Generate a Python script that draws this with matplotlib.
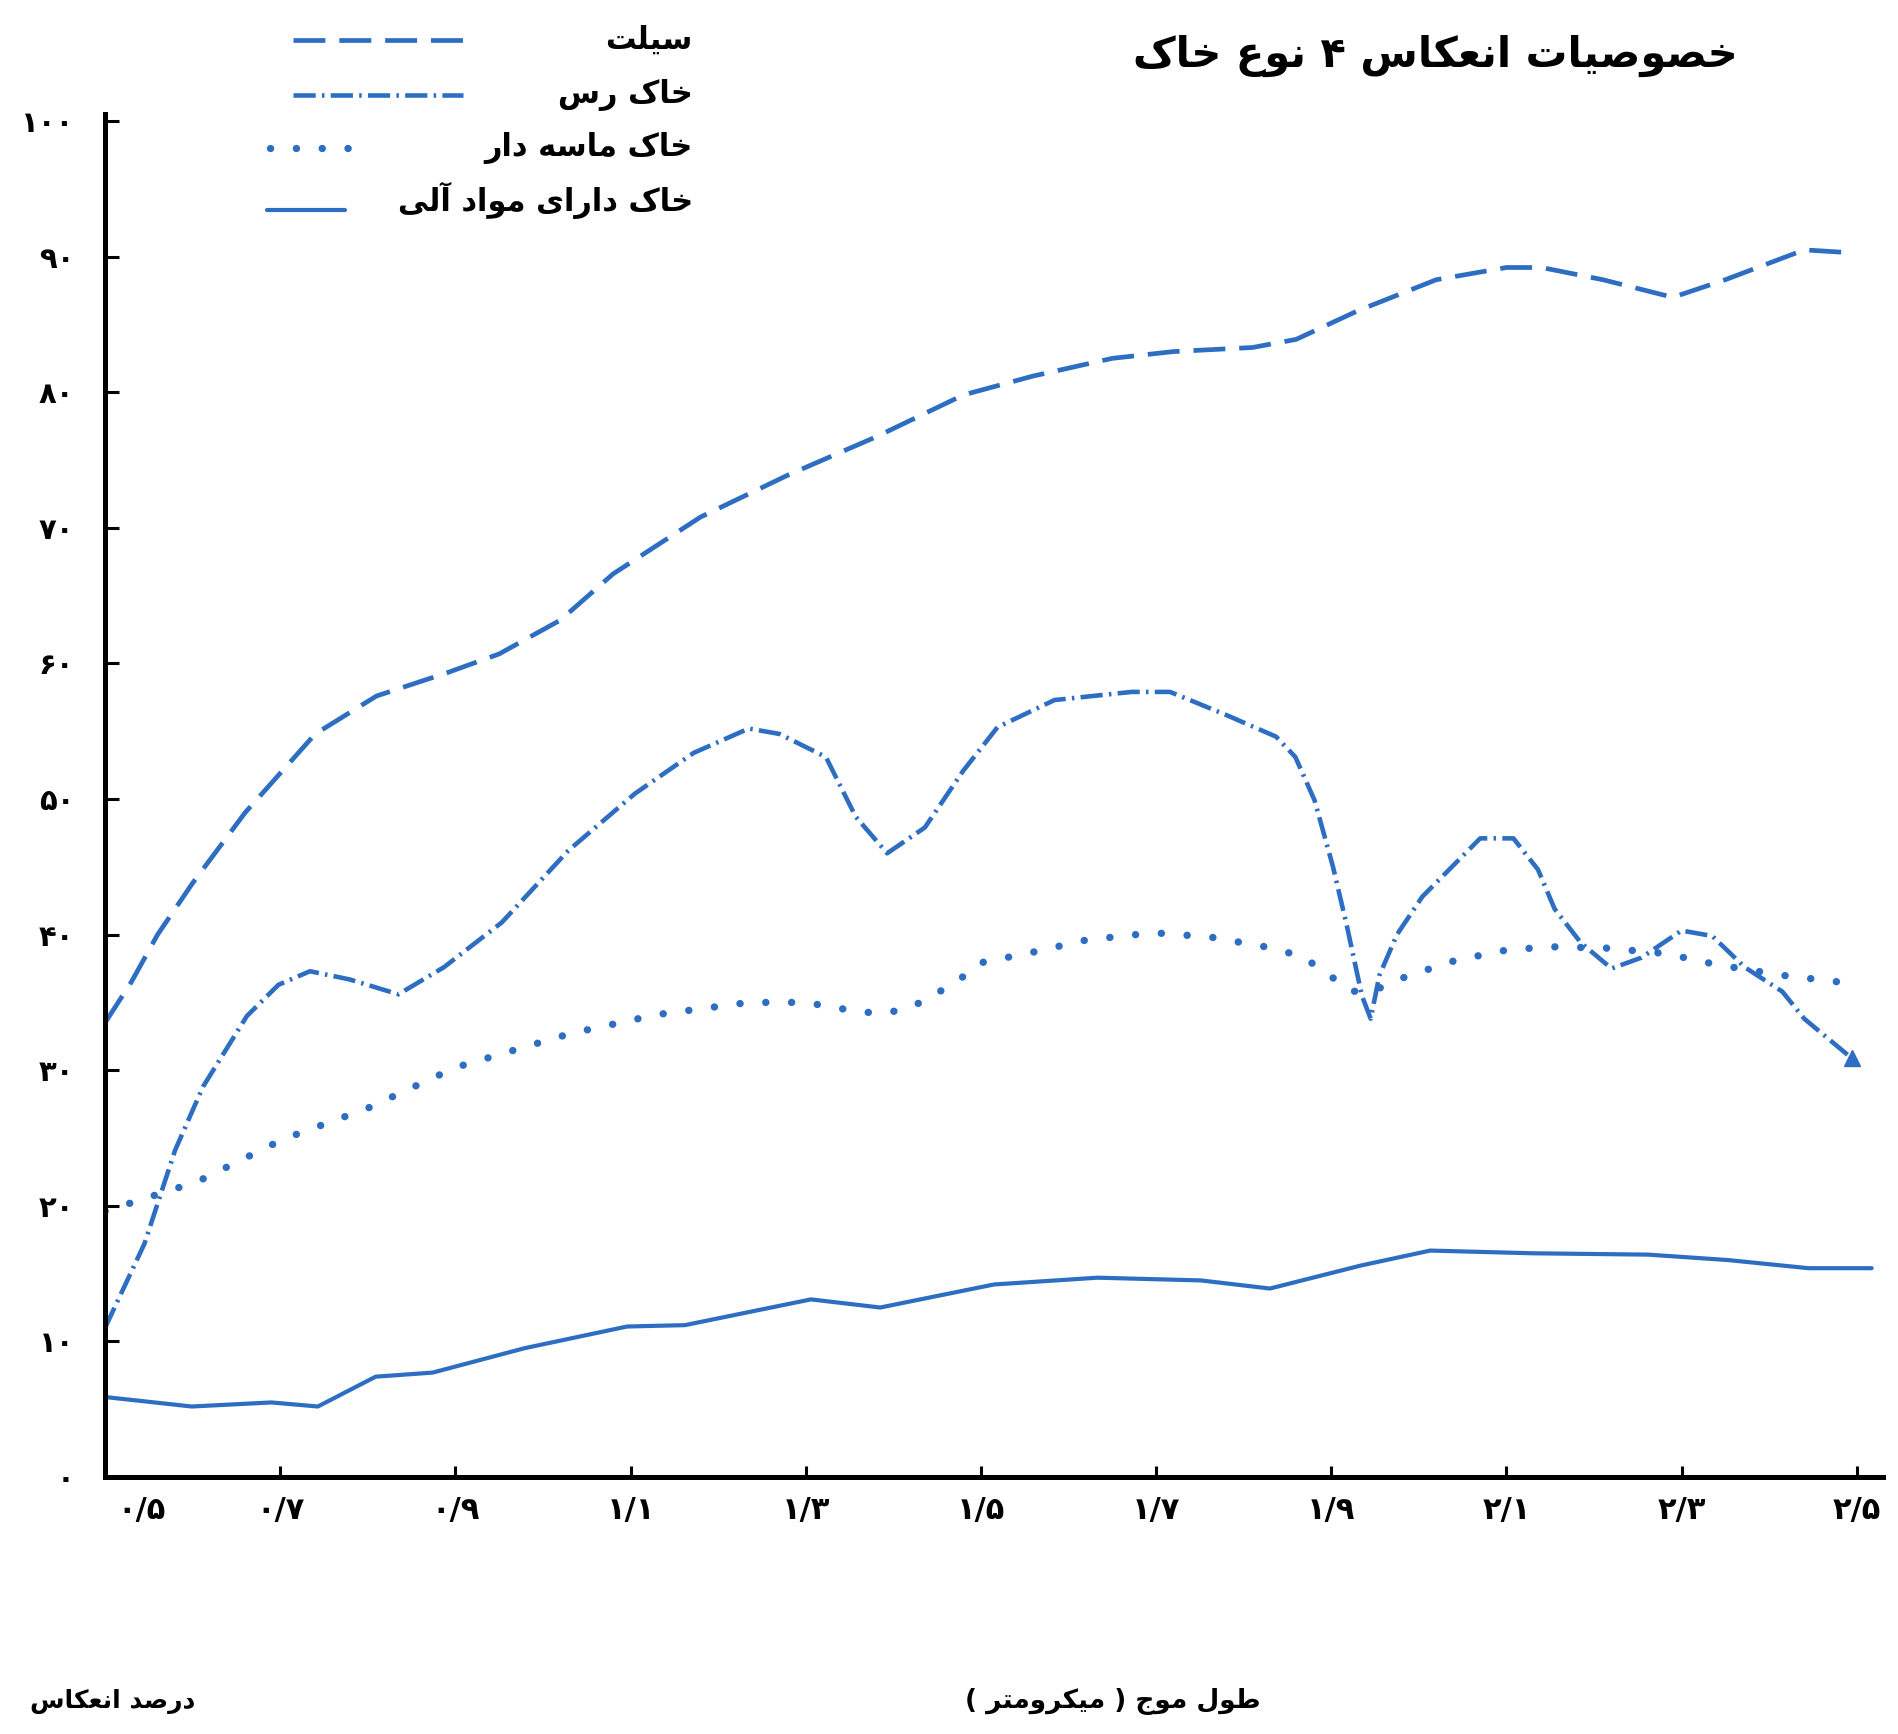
import matplotlib
matplotlib.use("Agg")
import matplotlib.pyplot as plt
from matplotlib.lines import Line2D
from matplotlib.transforms import ScaledTranslation

plt.rcParams['font.family'] = ['DejaVu Sans']
plt.rcParams['font.weight'] = 'bold'
plt.rcParams['lines.scale_dashes'] = False

# --- data (wavelength in micrometre, reflectance in percent) ---
silt_x = [0.50, 0.53, 0.56, 0.60, 0.66, 0.74, 0.81, 0.89, 0.95, 1.02, 1.08, 1.18, 1.28,
          1.38, 1.48, 1.56, 1.65, 1.72, 1.81, 1.86, 1.93, 2.02, 2.10, 2.14, 2.21, 2.29,
          2.35, 2.44, 2.49]
silt_y = [33.5, 36.5, 40.0, 43.8, 49.0, 54.8, 57.6, 59.3, 60.7, 63.2, 66.6, 70.8, 73.9,
          76.7, 79.8, 81.2, 82.5, 83.0, 83.3, 83.9, 86.0, 88.3, 89.2, 89.2, 88.3, 87.0,
          88.3, 90.5, 90.3]

clay_x = [0.50, 0.545, 0.58, 0.612, 0.662, 0.698, 0.734, 0.779, 0.835, 0.887, 0.953,
          1.029, 1.105, 1.172, 1.235, 1.27, 1.323, 1.357, 1.393, 1.436, 1.48, 1.519,
          1.584, 1.672, 1.716, 1.78, 1.837, 1.859, 1.881, 1.902, 1.918, 1.935, 1.945,
          1.955, 1.975, 2.004, 2.07, 2.108, 2.136, 2.155, 2.185, 2.22, 2.254, 2.30,
          2.335, 2.372, 2.415, 2.44, 2.494]
clay_y = [11.0, 17.2, 24.1, 28.8, 34.0, 36.3, 37.3, 36.7, 35.6, 37.6, 40.9,
          46.2, 50.4, 53.4, 55.2, 54.8, 53.1, 48.7, 46.0, 47.9, 52.1, 55.3,
          57.3, 57.9, 57.9, 56.2, 54.6, 53.1, 49.9, 45.0, 40.6, 35.5, 33.8,
          37.0, 40.0, 42.8, 47.1, 47.1, 44.8, 41.9, 39.4, 37.5, 38.3, 40.3,
          39.9, 37.6, 35.8, 33.8, 30.9]

sand_x = [0.50, 0.606, 0.703, 0.80, 0.90, 1.031, 1.13, 1.235, 1.30, 1.362, 1.39, 1.419,
          1.445, 1.474, 1.498, 1.559, 1.62, 1.677, 1.707, 1.764, 1.825, 1.867, 1.90,
          1.924, 1.958, 1.985, 2.042, 2.103, 2.155, 2.216, 2.282, 2.339, 2.415, 2.494]
sand_y = [19.6, 21.8, 24.9, 27.2, 30.2, 32.7, 34.1, 35.0, 35.0, 34.3, 34.2, 34.6,
          35.5, 36.6, 37.9, 38.7, 39.6, 40.0, 40.1, 39.8, 39.1, 38.4, 36.9,
          35.8, 36.1, 36.9, 38.1, 38.9, 39.1, 39.0, 38.6, 37.8, 37.0, 36.4]

organic_x = [0.50, 0.599, 0.69, 0.743, 0.809, 0.874, 0.979, 1.096, 1.162, 1.306, 1.385,
             1.515, 1.633, 1.751, 1.83, 1.934, 2.013, 2.13, 2.262, 2.353, 2.445, 2.517]
organic_y = [5.9, 5.2, 5.5, 5.2, 7.4, 7.7, 9.5, 11.1, 11.2, 13.1, 12.5,
             14.2, 14.7, 14.5, 13.9, 15.6, 16.7, 16.5, 16.4, 16.0, 15.4, 15.4]

x_ticks = [0.5, 0.7, 0.9, 1.1, 1.3, 1.5, 1.7, 1.9, 2.1, 2.3, 2.5]
x_labels = ['۰/۵', '۰/۷', '۰/۹', '۱/۱', '۱/۳', '۱/۵', '۱/۷', '۱/۹', '۲/۱', '۲/۳', '۲/۵']
y_ticks = [0, 10, 20, 30, 40, 50, 60, 70, 80, 90, 100]
y_labels = ['۰', '۱۰', '۲۰', '۳۰', '۴۰', '۵۰', '۶۰', '۷۰', '۸۰', '۹۰', '۱۰۰']

title = 'خصوصیات انعکاس ۴ نوع خاک'
legend_names = ['سیلت', 'خاک رس', 'خاک ماسه دار', 'خاک دارای مواد آلی']
xlabel = 'طول موج ( میکرومتر )'
ylabel = 'درصد انعکاس'

# --- simple persian shaping (matplotlib has no bidi / joining) ---
FORMS = {
    'ا': ('\uFE8D', '\uFE8E', None, None),
    'آ': ('\uFE81', '\uFE82', None, None),
    'ت': ('\uFE95', '\uFE96', '\uFE97', '\uFE98'),
    'ج': ('\uFE9D', '\uFE9E', '\uFE9F', '\uFEA0'),
    'خ': ('\uFEA5', '\uFEA6', '\uFEA7', '\uFEA8'),
    'د': ('\uFEA9', '\uFEAA', None, None),
    'ر': ('\uFEAD', '\uFEAE', None, None),
    'س': ('\uFEB1', '\uFEB2', '\uFEB3', '\uFEB4'),
    'ص': ('\uFEB9', '\uFEBA', '\uFEBB', '\uFEBC'),
    'ط': ('\uFEC1', '\uFEC2', '\uFEC3', '\uFEC4'),
    'ع': ('\uFEC9', '\uFECA', '\uFECB', '\uFECC'),
    'ک': ('\uFB8E', '\uFB8F', '\uFB90', '\uFB91'),
    'ل': ('\uFEDD', '\uFEDE', '\uFEDF', '\uFEE0'),
    'م': ('\uFEE1', '\uFEE2', '\uFEE3', '\uFEE4'),
    'ن': ('\uFEE5', '\uFEE6', '\uFEE7', '\uFEE8'),
    'ه': ('\uFEE9', '\uFEEA', '\uFEEB', '\uFEEC'),
    'و': ('\uFEED', '\uFEEE', None, None),
    'ی': ('\uFBFC', '\uFBFD', '\uFBFE', '\uFBFF'),
}


def fa(text):
    out = []
    for i, ch in enumerate(text):
        if ch not in FORMS:
            out.append(ch)
            continue
        iso, fin, ini, med = FORMS[ch]
        prev = text[i - 1] if i > 0 else ''
        nxt = text[i + 1] if i + 1 < len(text) else ''
        join_prev = prev in FORMS and FORMS[prev][2] is not None
        join_next = ini is not None and nxt in FORMS
        if join_prev and join_next:
            out.append(med)
        elif join_prev:
            out.append(fin)
        elif join_next:
            out.append(ini)
        else:
            out.append(iso)
    return ''.join(out)[::-1].translate(str.maketrans('()', ')('))


blue = '#2d6ec3'
styles = [
    dict(color=blue, lw=3.4, dashes=(23, 10)),
    dict(color=blue, lw=3.3, dashes=(16, 4.5, 1.8, 4.5)),
    dict(color=blue, lw=5.3, dashes=(0.1, 18.5), dash_capstyle='round'),
    dict(color=blue, lw=3.0, solid_capstyle='round'),
]

fig = plt.figure(figsize=(18.99, 17.34), dpi=100)
ax = fig.add_axes([0.0553, 0.1482, 0.9363, 0.7859])

ax.plot(silt_x, silt_y, **styles[0])
ax.plot(clay_x, clay_y, **styles[1])
ax.plot(clay_x[-1:], clay_y[-1:], marker='^', ms=11, color=blue, ls='none')
ax.plot(sand_x, sand_y, **styles[2])
ax.plot(organic_x, organic_y, **styles[3])

ax.set_xlim(0.5, 2.53)
ax.set_ylim(0, 100.5)
for s in ['top', 'right']:
    ax.spines[s].set_visible(False)
for s in ['left', 'bottom']:
    ax.spines[s].set_linewidth(3.6)
    ax.spines[s].set_color('black')

ax.set_xticks(x_ticks)
ax.set_xticklabels(x_labels, fontsize=22, fontweight='bold')
ax.set_yticks(y_ticks)
ax.set_yticklabels(y_labels, fontsize=21, fontweight='bold')
ax.tick_params(axis='y', direction='in', length=10, width=2.2, pad=22)
ax.tick_params(axis='x', direction='in', length=8, width=2.2, pad=14)
# first wavelength label sits a little right of the corner
first = ax.get_xticklabels()[0]
first.set_transform(first.get_transform() + ScaledTranslation(0.36, 0, fig.dpi_scale_trans))

# title and axis texts
fig.text(0.915, 0.968, fa(title), ha='right', va='center', fontsize=30, fontweight='bold')
fig.text(0.016, 0.019, fa(ylabel), ha='left', va='center', fontsize=18, fontweight='bold')
fig.text(0.664, 0.019, fa(xlabel), ha='right', va='center', fontsize=19, fontweight='bold')

# legend drawn by hand, text on the right, line sample on the left
W, H = 1899.0, 1734.0
rows_y = [40, 95, 148, 200]
line_spans = [(293, 463), (293, 463), (270, 362), (267, 345)]
for name, st, ry, (x0, x1) in zip(legend_names, styles, rows_y, line_spans):
    ly = ry + (10 if name == legend_names[3] else 0)
    fig.add_artist(Line2D([x0 / W, x1 / W], [1 - ly / H, 1 - ly / H],
                          transform=fig.transFigure, **st))
    fig.text(693 / W, 1 - ry / H, fa(name), ha='right', va='center',
             fontsize=22, fontweight='bold')

fig.savefig('out.png', dpi=100, facecolor='white')
